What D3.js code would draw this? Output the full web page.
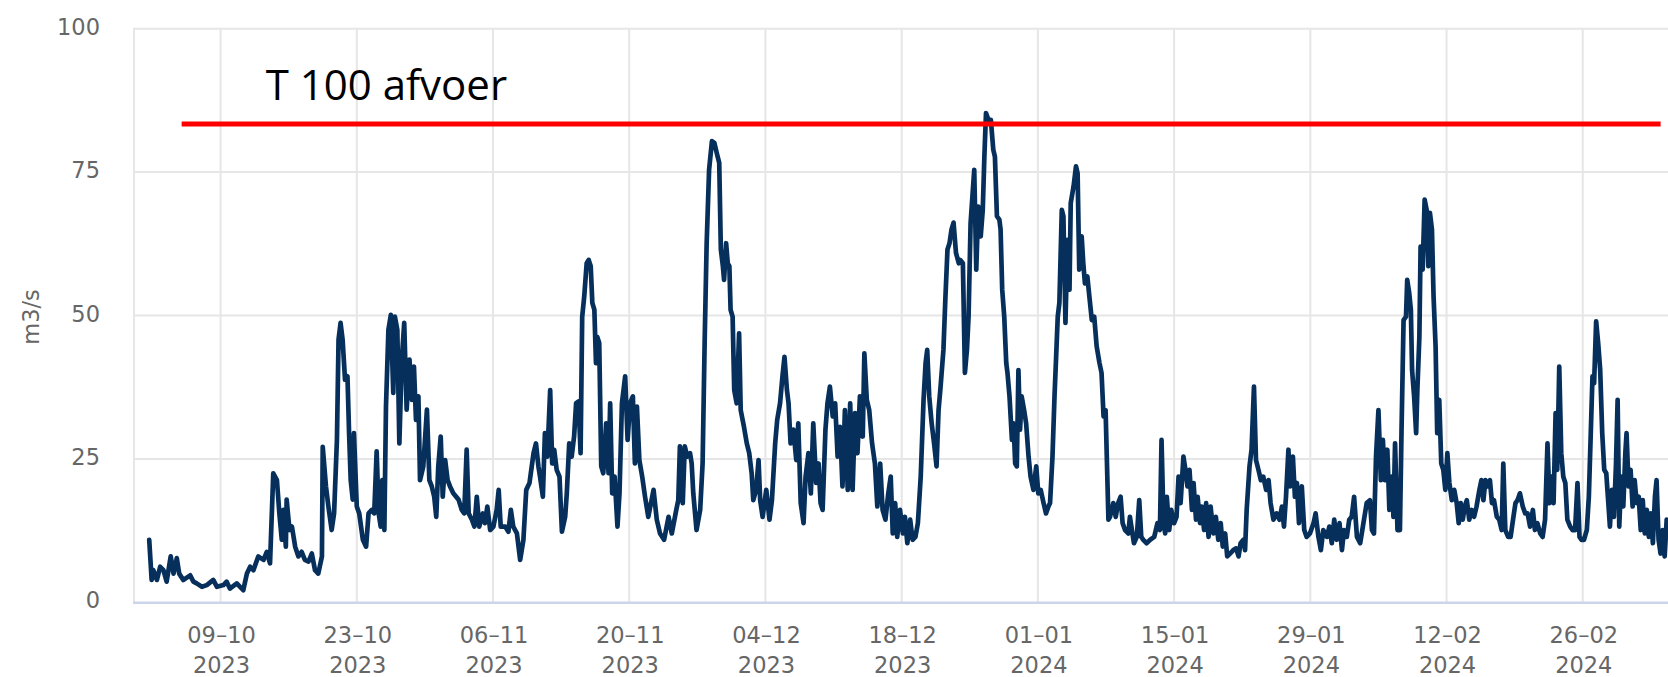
<!DOCTYPE html>
<html>
<head>
<meta charset="utf-8">
<script src="https://cdn.jsdelivr.net/npm/d3@7"></script>
<style>
  html, body { margin: 0; padding: 0; background: #ffffff; }
  svg { display: block; }
</style>
</head>
<body>
<svg id="chart" width="1668" height="677"></svg>
<script>
// Discharge series: measurement time (hours after 2023-10-01 00:00 UTC) and flow in m3/s
const seriesStart = "2023-10-01T00:00:00Z";

const hours = [
  16,22,26,35,43,51,59,69,76,84,90,100,117,125,133,146,158,174,183,199,207,215,232,248,
  257,265,273,285,298,306,314,322,331,337,343,347,353,355,362,368,376,384,392,400,409,417,425,433,
  442,444,452,458,466,472,479,483,488,493,499,505,509,513,518,521,528,534,543,551,557,565,571,577,
  582,587,591,596,600,606,612,618,622,628,633,639,645,651,658,664,669,674,680,684,692,701,707,713,
  719,724,729,735,740,746,752,758,766,779,787,793,799,804,812,818,824,830,839,844,850,857,865,873,
  878,883,894,902,908,914,923,931,939,946,954,964,970,976,
  980,987,992,998,1005,1010,1015,1021,1028,1034,1042,1046,1052,1058,1064,1069,1075,1080,1084,1089,
  1095,1100,1105,1109,1114,1118,1121,1126,1131,1136,1143,1149,1153,1158,1164,1171,1176,1182,1190,
  1196,1202,1209,1214,1219,1225,1232,1239,1247,1260,1268,1276,1286,1297,1305,1316,1321,1325,1332,
  1337,1343,1350,1354,1358,1366,1375,1381,1386,1391,1397,1404,1410,1416,1422,1426,1431,1434,1439,
  1443,1447,1450,1455,1459,1465,1471,1475,1483,1490,1496,1502,1506,1513,1519,1523,1529,1538,1546,
  1552,1560,1565,1572,1578,1583,1589,1593,1598,1605,1612,1617,1623,1630,1635,1642,1648,1654,1661,
  1667,1672,1677,1684,1689,1695,1702,1708,1714,1720,1726,1732,1739,1745,1751,1757,1763,1769,1776,
  1780,1786,1792,1799,1806,1812,1819,1825,1832,1839,1845,1850,1856,1861,1868,1875,1880,1886,1893,
  1899,1906,1912,1919,1926,1931,1935,1940,1946,1952,1958,1963,1968,1975,1980,1985,1990,1995,2000,
  2006,2013,
  2016,2023,2028,2033,2037,2042,2051,2056,2061,2067,2072,2076,2080,2086,2092,2098,2102,2107,2113,
  2116,2120,2125,2130,2133,2138,2144,2148,2152,2156,2160,2164,2168,2174,2179,2185,2190,2197,2204,
  2209,2215,2222,2228,2234,2238,2244,2249,2253,2257,2261,2267,2271,2276,2281,2286,2289,2296,2302,
  2306,2310,2316,2320,2324,2330,2335,2341,2347,2353,2360,2365,2370,2375,2382,2386,2394,2400,2406,
  2412,2417,2423,2431,2435,2440,2445,2452,2458,2463,2468,2476,2485,2495,2503,2509,2513,2518,2522,
  2526,2532,2537,2544,2550,2555,2560,2567,2572,2577,2582,2588,2592,2598,2602,2608,2612,2618,2623,
  2629,2634,2641,2647,2653,2659,2664,2670,2675,2682,2690,2697,2703,2708,2715,2719,2723,2730,2735,
  2741,2746,2752,2758,2764,2771,2777,2782,2789,2797,2804,2810,2815,2820,2826,2830,2837,2842,2847,
  2852,2859,2865,2871,2879,2888,2893,2900,2906,2912,2921,2927,2933,2939,2945,2952,2958,2963,2970,
  2976,2982,2988,2995,3003,3011,3019,3027,
  3032,3037,3042,3048,3054,3059,3064,3070,3075,3081,3085,3089,3095,3101,3105,3110,3116,3119,3124,
  3128,3131,3136,3141,3144,3149,3152,3157,3162,3167,3171,3175,3180,3184,3189,3193,3198,3203,3208,
  3213,3218,3223,3229,3235,3241,3246,3251,3256,3261,3266,3272,3278,3284,3290,3297,3302,3307,3312,
  3317,3323,3328,3333,3340,3346,3352,3356,3361,3368,3374,3381,3386,3391,3397,3404,3410,3416,3422,
  3429,3434,3440,3447,3453,3459,3465,3470,3475,3480,3485,3489,3494,3499,3504,3509,3514,3521,3527,
  3533,3539,3544,3549,3555,3562,3567,3572,3576,3580,3585,3590,3595,3600,3605,3610,3614,3619,3624,
  3629,3634,3638,3642,3647,3652,3657,3660,3665,3670,3675,3680,3685,3690,3695,3700,3705,3710,3715,
  3720,3725,3730,3734,3739,3744,3749,3754,3759,3762
];

const discharge = [
  10.9,3.9,5.6,3.9,6.2,5.6,3.6,8.0,5.0,7.7,5.0,3.9,4.7,3.6,3.3,2.7,3.0,3.9,2.7,3.0,3.6,2.4,3.3,2.1,
  5.0,6.2,5.6,8.0,7.4,8.8,6.8,22.5,21.3,15.5,10.9,16.1,9.7,17.9,12.6,13.2,9.7,8.0,8.8,7.4,7.1,8.5,5.6,5.0,
  8.0,27.1,20.2,16.7,12.6,15.5,28.3,45.8,48.7,45.8,38.8,39.4,29.5,21.3,17.9,29.5,16.7,15.5,10.9,9.7,15.5,16.1,15.5,26.3,
  15.5,13.2,21.3,12.6,34.1,47.5,50.1,36.5,49.8,47.5,27.7,42.3,48.7,33.6,42.3,35.3,41.1,31.8,35.9,21.3,23.7,33.6,21.3,20.2,
  18.4,14.9,23.7,28.9,18.4,24.8,21.3,20.2,19.0,17.9,16.1,15.5,26.6,15.5,14.4,13.2,18.4,13.2,15.5,13.8,16.7,12.6,13.2,16.1,
  19.6,13.2,13.2,12.3,16.1,13.2,12.0,7.4,10.9,19.6,20.8,26.0,27.7,23.7,
  21.9,18.4,29.5,25.4,37.0,24.2,26.6,23.1,21.9,12.3,14.9,19.0,27.7,25.4,28.9,34.7,35.0,26.0,49.8,53.3,
  59.1,59.7,58.6,52.2,51.0,41.7,46.3,45.2,23.7,22.5,31.2,22.5,34.7,19.0,21.9,13.2,19.0,34.7,39.4,
  28.3,34.7,35.9,24.2,34.1,24.8,21.9,18.4,14.9,19.6,14.4,12.0,10.9,14.9,12.0,16.1,17.8,27.2,17.3,
  27.2,25.4,26.0,24.2,19.0,12.6,16.1,24.2,45.2,62.6,75.4,80.4,80.1,78.3,76.6,61.5,58.6,56.2,62.6,
  59.1,58.6,51.0,49.8,37.0,34.7,46.9,33.5,30.6,27.7,26.0,22.5,17.8,19.6,24.8,17.8,14.9,19.6,14.4,
  17.8,27.7,31.8,34.7,39.4,42.8,37.0,34.7,27.7,30.1,24.8,31.2,17.3,13.8,21.9,26.0,19.0,31.2,20.8,
  24.2,17.3,16.1,30.1,34.7,37.6,32.4,34.7,25.4,30.6,20.2,33.5,19.6,34.7,19.6,33.0,26.0,35.9,28.9,
  43.4,35.3,33.5,27.7,24.2,16.7,24.2,16.1,14.4,19.0,21.9,12.0,17.3,11.4,16.1,12.0,14.9,10.3,14.4,
  10.9,11.4,13.8,21.9,35.3,41.7,44.0,35.9,31.2,27.7,23.7,33.5,37.6,44.0,53.3,61.5,62.6,65.0,66.2,
  60.9,59.1,
  59.7,59.1,40.0,44.0,49.8,66.1,75.4,58.0,69.0,63.8,68.4,77.7,85.3,84.1,84.1,78.9,77.7,67.3,66.7,
  65.0,54.5,49.8,41.7,40.0,35.9,28.3,31.2,24.2,23.7,40.5,30.1,35.9,33.5,31.2,25.4,21.9,19.6,23.7,
  19.0,19.6,17.3,15.5,16.7,17.3,25.4,35.9,42.8,49.8,52.2,68.4,67.3,48.7,63.2,54.5,69.6,72.5,76.0,
  74.8,58.0,63.8,59.1,55.6,56.8,53.3,49.2,49.8,44.6,41.7,40.0,32.4,33.5,14.4,14.9,17.3,14.9,17.3,
  18.4,13.8,12.6,12.0,14.9,12.6,10.3,11.4,17.8,11.4,10.9,10.3,10.9,11.4,13.8,12.6,28.3,13.8,12.0,
  18.4,12.6,16.1,13.8,14.9,21.9,17.3,25.4,23.1,20.2,23.1,16.1,20.8,14.4,18.4,13.8,16.7,12.6,17.3,
  11.4,16.7,12.0,14.9,10.9,13.8,9.7,12.0,8.0,8.5,9.1,9.4,8.0,10.3,10.9,9.1,16.1,23.7,26.6,
  37.6,24.8,23.1,21.3,21.9,19.6,21.3,17.3,14.4,15.5,14.4,16.7,13.2,18.4,26.6,20.2,25.4,18.4,20.8,
  13.8,20.2,12.6,11.4,12.0,13.8,15.5,11.4,9.1,12.6,11.4,13.2,10.3,14.4,10.9,13.8,9.1,12.6,11.4,
  14.4,14.9,18.4,11.4,10.3,13.8,17.3,17.8,
  12.6,12.0,25.4,33.5,21.3,28.3,21.3,26.6,16.1,21.9,14.9,27.7,12.6,12.6,30.1,49.2,49.8,56.2,53.9,
  51.0,40.5,35.9,29.5,37.0,46.3,62.0,58.0,70.2,68.4,58.6,67.9,65.0,53.3,44.6,29.5,35.3,24.2,23.1,
  19.6,26.0,20.8,17.8,19.6,17.3,13.8,17.3,14.4,16.7,17.8,14.4,16.1,14.9,16.7,19.6,21.3,17.8,21.3,
  20.2,21.3,17.3,17.8,14.9,14.4,12.6,24.2,12.6,11.4,11.4,14.9,17.3,17.8,19.0,16.7,15.5,15.5,13.2,
  16.1,12.6,13.8,12.0,11.4,14.4,27.7,17.3,21.9,17.3,33.0,23.1,41.1,26.0,21.9,20.8,14.4,13.2,12.6,
  12.6,20.8,11.4,10.9,10.9,12.6,18.4,30.1,39.4,38.2,49.0,45.2,40.5,29.5,23.1,22.5,18.4,13.2,19.6,
  14.9,24.2,35.3,13.2,21.9,16.7,26.0,29.5,20.2,23.1,16.7,21.3,17.3,18.4,12.6,17.8,12.0,16.1,11.4,
  15.5,10.3,18.4,21.3,10.9,8.5,12.6,8.0,14.4,11.4
];

// Axis ticks and annotation
const yTicks = [0, 25, 50, 75, 100];
const xTickDates = [
  "2023-10-09", "2023-10-23", "2023-11-06", "2023-11-20", "2023-12-04", "2023-12-18",
  "2024-01-01", "2024-01-15", "2024-01-29", "2024-02-12", "2024-02-26"
];
const unitLabel = "m3/s";
const thresholdLabel = "T 100 afvoer";
const thresholdValue = 83.4;
const thresholdSpan = ["2023-10-05T00:00:00Z", "2024-03-05T00:00:00Z"];

// ---- layout ----
const W = 1668, H = 677;
const plot = { left: 133, right: 1668, top: 28.7, bottom: 602.3 };

const t0 = new Date(seriesStart).getTime();
const series = hours.map((h, i) => ({ t: new Date(t0 + h * 3600e3), v: discharge[i] }));

const x = d3.scaleUtc()
  .domain([new Date("2023-09-30T00:00:00Z"), new Date("2024-03-05T18:15:00Z")])
  .range([plot.left, plot.right]);
const y = d3.scaleLinear().domain([0, 100]).range([plot.bottom, plot.top]);

const svg = d3.select("#chart");
const labelFont = "'DejaVu Sans', Verdana, sans-serif";
const labelColor = "#666666";
const gridColor = "#e6e6e6";

// horizontal grid
svg.append("g").selectAll("line").data(yTicks.filter(d => d > 0)).join("line")
  .attr("x1", plot.left).attr("x2", plot.right)
  .attr("y1", d => y(d)).attr("y2", d => y(d))
  .attr("stroke", gridColor).attr("stroke-width", 2);

// vertical grid at the date ticks, plus left plot edge
const tickTimes = xTickDates.map(s => new Date(s + "T00:00:00Z"));
svg.append("g").selectAll("line").data(tickTimes).join("line")
  .attr("x1", d => x(d)).attr("x2", d => x(d))
  .attr("y1", plot.top).attr("y2", plot.bottom)
  .attr("stroke", gridColor).attr("stroke-width", 2);
svg.append("line")
  .attr("x1", plot.left + 1).attr("x2", plot.left + 1)
  .attr("y1", plot.top).attr("y2", plot.bottom)
  .attr("stroke", gridColor).attr("stroke-width", 2);

// x axis line
svg.append("line")
  .attr("x1", plot.left).attr("x2", plot.right)
  .attr("y1", plot.bottom + 0.5).attr("y2", plot.bottom + 0.5)
  .attr("stroke", "#ccd6eb").attr("stroke-width", 2.5);

// y tick labels
svg.append("g").selectAll("text").data(yTicks).join("text")
  .attr("x", 100).attr("y", d => y(d) + 6)
  .attr("text-anchor", "end")
  .attr("font-family", labelFont).attr("font-size", 22.5)
  .attr("fill", labelColor)
  .text(d => d);

// x tick labels: day-month over year
const fmtDM = d3.utcFormat("%d\u2013%m");
const fmtY = d3.utcFormat("%Y");
const xl = svg.append("g").selectAll("text").data(tickTimes).join("text")
  .attr("text-anchor", "middle")
  .attr("font-family", labelFont).attr("font-size", 22.5)
  .attr("fill", labelColor);
xl.append("tspan").attr("x", d => x(d) + 1).attr("y", 642.5).text(d => fmtDM(d));
xl.append("tspan").attr("x", d => x(d) + 1).attr("y", 673).text(d => fmtY(d));

// y axis title
svg.append("text")
  .attr("transform", "translate(38.5,317) rotate(-90)")
  .attr("text-anchor", "middle")
  .attr("font-family", labelFont).attr("font-size", 22.5)
  .attr("fill", labelColor)
  .text(unitLabel);

// discharge line
svg.append("clipPath").attr("id", "plotClip").append("rect")
  .attr("x", plot.left).attr("y", 0).attr("width", plot.right - plot.left).attr("height", plot.bottom + 3);
const line = d3.line().x(d => x(d.t)).y(d => y(d.v));
svg.append("path")
  .datum(series)
  .attr("clip-path", "url(#plotClip)")
  .attr("d", line)
  .attr("fill", "none")
  .attr("stroke", "#06305b")
  .attr("stroke-width", 4.7)
  .attr("stroke-linejoin", "round")
  .attr("stroke-linecap", "round");

// T100 threshold line and label
const thY = y(thresholdValue);
svg.append("line")
  .attr("x1", x(new Date(thresholdSpan[0]))).attr("x2", x(new Date(thresholdSpan[1])))
  .attr("y1", thY).attr("y2", thY)
  .attr("stroke", "#ff0000").attr("stroke-width", 5);
svg.append("text")
  .attr("x", x(new Date(thresholdSpan[0])) + 84)
  .attr("y", thY - 23.5)
  .attr("font-family", "'Open Sans', 'Liberation Sans', sans-serif")
  .attr("font-size", 42)
  .attr("fill", "#000000")
  .text(thresholdLabel);
</script>
</body>
</html>
